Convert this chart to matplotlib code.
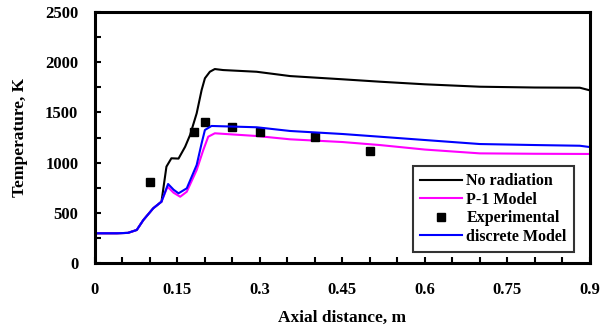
import matplotlib
matplotlib.use("Agg")
import matplotlib.pyplot as plt
import numpy as np

# No radiation
x_nr = [0.0, 0.04, 0.06, 0.076, 0.088, 0.106, 0.121, 0.130, 0.139, 0.152, 0.164, 0.173, 0.185, 0.194, 0.200, 0.209, 0.218, 0.233, 0.294, 0.355, 0.45, 0.518, 0.6, 0.7, 0.8, 0.882, 0.9]
t_nr = [296, 296, 300, 329, 428, 545, 611, 960, 1043, 1040, 1158, 1275, 1491, 1723, 1840, 1905, 1932, 1922, 1905, 1862, 1830, 1806, 1780, 1756, 1748, 1746, 1720]

# P-1 Model
x_p1 = [0.0, 0.04, 0.06, 0.076, 0.088, 0.106, 0.121, 0.132, 0.143, 0.155, 0.167, 0.185, 0.197, 0.206, 0.218, 0.294, 0.355, 0.45, 0.518, 0.6, 0.7, 0.8, 0.9]
t_p1 = [296, 296, 300, 329, 428, 545, 611, 760, 700, 660, 710, 926, 1125, 1258, 1292, 1265, 1232, 1205, 1175, 1130, 1092, 1088, 1086]

# discrete Model
x_do = [0.0, 0.04, 0.06, 0.076, 0.088, 0.106, 0.121, 0.133, 0.143, 0.152, 0.167, 0.185, 0.194, 0.200, 0.212, 0.294, 0.355, 0.45, 0.518, 0.6, 0.7, 0.8, 0.882, 0.9]
t_do = [296, 296, 300, 329, 428, 545, 611, 787, 730, 694, 744, 976, 1192, 1325, 1365, 1352, 1315, 1285, 1258, 1225, 1185, 1175, 1168, 1155]

# Experimental
x_exp = [0.1, 0.18, 0.2, 0.25, 0.3, 0.4, 0.5]
t_exp = [810, 1308, 1407, 1358, 1302, 1258, 1118]

xticks = [0, 0.15, 0.3, 0.45, 0.6, 0.75, 0.9]
xticklabels = ["0", "0.15", "0.3", "0.45", "0.6", "0.75", "0.9"]
yticks = [0, 500, 1000, 1500, 2000, 2500]

plt.rcParams['font.family'] = ['Liberation Serif', 'DejaVu Serif']
plt.rcParams['font.weight'] = 'bold'

fig = plt.figure(figsize=(6.03, 3.34), dpi=100)
ax = fig.add_axes([0.1575, 0.2126, 0.8205, 0.7514])

ax.plot(x_nr, t_nr, color='black', lw=1.5, label='No radiation')
ax.plot(x_p1, t_p1, color='#ff00ff', lw=1.5, label='P-1 Model')
ax.plot(x_exp, t_exp, 's', color='black', ms=6, ls='none', label='Experimental')
ax.plot(x_do, t_do, color='#0000ff', lw=1.5, label='discrete Model')

ax.set_xlim(0, 0.9)
ax.set_ylim(0, 2500)
ax.set_xticks(xticks)
ax.set_xticklabels(xticklabels)
ax.set_xticks(np.arange(0, 0.91, 0.05), minor=True)
ax.set_yticks(yticks)
ax.set_yticks(np.arange(0, 2501, 250), minor=True)
ax.tick_params(which='both', direction='in', width=1.5, labelsize=12)
ax.tick_params(which='both', length=4)
ax.tick_params(axis='x', which='major', pad=14)
ax.tick_params(axis='y', which='major', pad=12)
for s in ax.spines.values():
    s.set_linewidth(2.2)

ax.set_xlabel('Axial distance, m', fontsize=12.5, fontweight='bold', labelpad=8)
ax.set_ylabel('Temperature, K', fontsize=12.5, fontweight='bold', labelpad=12)

leg = ax.legend(loc='lower right', bbox_to_anchor=(0.968, 0.045), fontsize=11.5,
                frameon=True, fancybox=False, edgecolor='black', handlelength=2.6,
                handletextpad=0.3, labelspacing=0.15, borderpad=0.45, borderaxespad=0)
leg.get_frame().set_linewidth(1.5)

fig.savefig('out.png', dpi=100)
